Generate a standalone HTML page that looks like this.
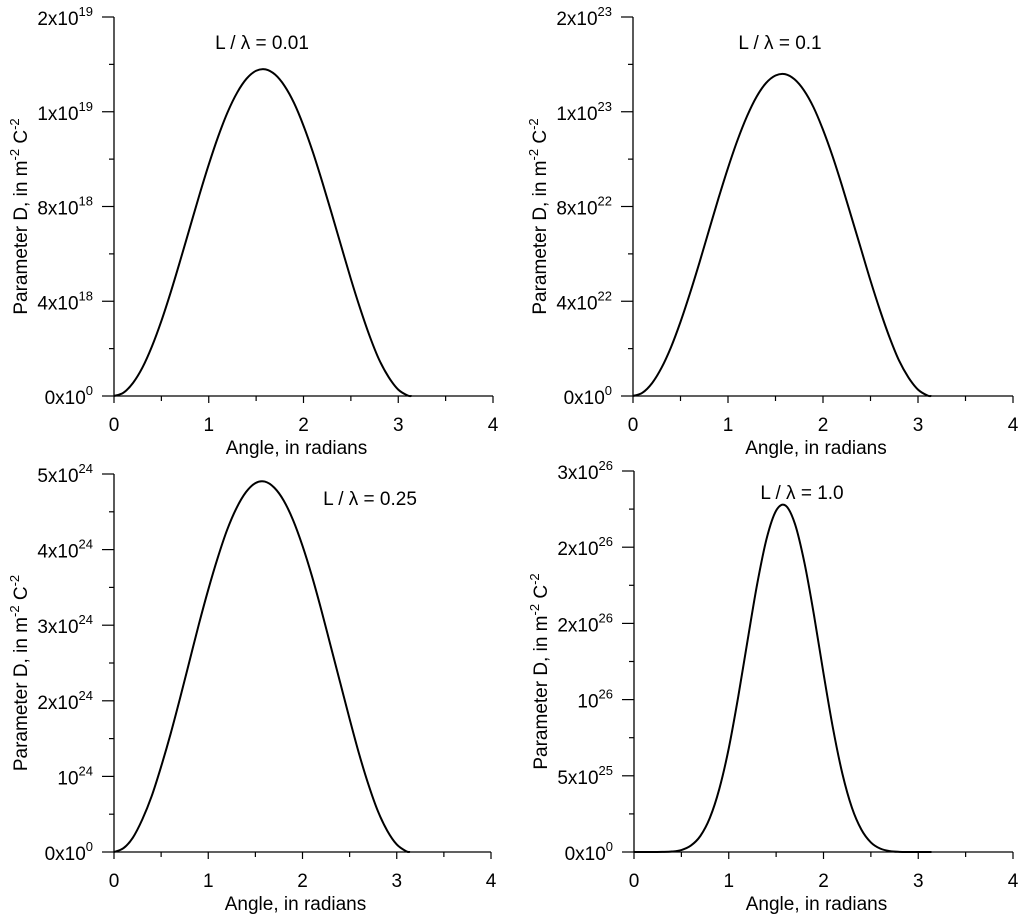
<!DOCTYPE html>
<html><head><meta charset="utf-8">
<style>
body{margin:0;background:#fff}
svg{display:block;font-family:"Liberation Sans",Arial,sans-serif}
</style></head>
<body>
<svg id="fig" width="1024" height="921" viewBox="0 0 1024 921"></svg>
<script>
const xs = [0,0.1,0.2,0.3,0.4,0.5,0.6,0.7,0.8,0.9,1.0,1.1,1.2,1.3,1.4,1.5,1.6,1.7,1.8,1.9,2.0,2.1,2.2,2.3,2.4,2.5,2.6,2.7,2.8,2.9,3.0,3.1,3.14];
const seriesA = [0,0.14,0.55,1.2,2.09,3.17,4.4,5.73,7.1,8.47,9.77,10.96,11.99,12.81,13.4,13.73,13.79,13.57,13.09,12.37,11.41,10.28,9.01,7.67,6.3,4.94,3.67,2.51,1.52,0.79,0.27,0.02,0]; // x1e18
const seriesB = [0,0.14,0.54,1.19,2.06,3.13,4.34,5.64,7.0,8.35,9.63,10.8,11.81,12.63,13.21,13.53,13.59,13.37,12.9,12.19,11.24,10.13,8.88,7.55,6.21,4.87,3.62,2.48,1.5,0.78,0.27,0.02,0]; // x1e22
const seriesC = [0,0.05,0.19,0.43,0.74,1.13,1.56,2.03,2.52,3.01,3.47,3.89,4.26,4.55,4.76,4.88,4.9,4.82,4.65,4.39,4.05,3.65,3.2,2.72,2.24,1.76,1.3,0.89,0.54,0.28,0.1,0.01,0]; // x1e24
const seriesD = [0,0,0,0.005,0.03,0.13,0.42,1.05,2.23,4.13,6.8,10.19,13.93,17.58,20.57,22.4,22.73,21.5,18.94,15.53,11.72,8.12,5.12,2.91,1.47,0.63,0.22,0.06,0.01,0,0,0,0]; // x1e25
const xTicks = [0,1,2,3,4];
const yTicksA = [["0x10","0"],["4x10","18"],["8x10","18"],["1x10","19"],["2x10","19"]];
const yTicksB = [["0x10","0"],["4x10","22"],["8x10","22"],["1x10","23"],["2x10","23"]];
const yTicksC = [["0x10","0"],["10","24"],["2x10","24"],["3x10","24"],["4x10","24"],["5x10","24"]];
const yTicksD = [["0x10","0"],["5x10","25"],["10","26"],["2x10","26"],["2x10","26"],["3x10","26"]];
const titles = ["L / \u03bb = 0.01","L / \u03bb = 0.1","L / \u03bb = 0.25","L / \u03bb = 1.0"];

const NS="http://www.w3.org/2000/svg";
const svg=document.getElementById('fig');
function mk(tag,attrs,parent){const e=document.createElementNS(NS,tag);for(const k in attrs)e.setAttribute(k,attrs[k]);(parent||svg).appendChild(e);return e;}

const panels=[
 {x0:114,x1:493,y0:396,y1:17,ymax:16,data:seriesA,ticks:yTicksA,title:titles[0],tx:262,ty:49,name:'panel-l-001'},
 {x0:633,x1:1013,y0:396,y1:17,ymax:16,data:seriesB,ticks:yTicksB,title:titles[1],tx:780,ty:49,name:'panel-l-01'},
 {x0:114,x1:491,y0:852,y1:474,ymax:5,data:seriesC,ticks:yTicksC,title:titles[2],tx:370,ty:505,name:'panel-l-025'},
 {x0:634,x1:1013,y0:852,y1:471,ymax:25,data:seriesD,ticks:yTicksD,title:titles[3],tx:802,ty:499,name:'panel-l-10'}
];

panels.forEach(p=>{
 const g=mk('g',{});
 
 
 const X=v=>p.x0+(v/4)*(p.x1-p.x0);
 const Y=v=>p.y0-(v/p.ymax)*(p.y0-p.y1);
 const ya=mk('line',{x1:p.x0,y1:p.y0,x2:p.x0,y2:p.y1,stroke:'#000','stroke-width':1.3},g);
 
 
 const xa=mk('line',{x1:p.x0,y1:p.y0,x2:p.x1,y2:p.y0,stroke:'#000','stroke-width':1.3},g);
 
 
 for(let i=0;i<=8;i++){
  const v=i*0.5;
  mk('line',{x1:X(v),y1:p.y0,x2:X(v),y2:p.y0+(i%2?5:7),stroke:'#000','stroke-width':1.2},g);
 }
 xTicks.forEach(v=>{
  const t=mk('text',{x:X(v),y:p.y0+35,'font-size':19,'text-anchor':'middle'},g);
  t.textContent=v;
  
  
 });
 const n=p.ticks.length-1;
 for(let i=0;i<=2*n;i++){
  const y=p.y0-(i/(2*n))*(p.y0-p.y1);
  mk('line',{x1:p.x0,y1:y,x2:p.x0-(i%2?5:12),y2:y,stroke:'#000','stroke-width':1.2},g);
 }
 p.ticks.forEach((lab,i)=>{
  const y=p.y0-(i/n)*(p.y0-p.y1);
  const t=mk('text',{x:p.x0-21,y:y+8,'font-size':19,'text-anchor':'end'},g);
  
  
  const a=mk('tspan',{},t);a.textContent=lab[0];
  const b=mk('tspan',{dy:-9,'font-size':13},t);b.textContent=lab[1];
 });
 const pts=xs.map((x,i)=>[X(x),Y(p.data[i])]);
 let d='M'+pts[0][0].toFixed(2)+','+pts[0][1].toFixed(2);
 for(let i=0;i<pts.length-1;i++){
  const p0=pts[Math.max(0,i-1)],p1=pts[i],p2=pts[i+1],p3=pts[Math.min(pts.length-1,i+2)];
  const c1=[p1[0]+(p2[0]-p0[0])/6,p1[1]+(p2[1]-p0[1])/6];
  const c2=[p2[0]-(p3[0]-p1[0])/6,p2[1]-(p3[1]-p1[1])/6];
  d+='C'+c1[0].toFixed(2)+','+c1[1].toFixed(2)+' '+c2[0].toFixed(2)+','+c2[1].toFixed(2)+' '+p2[0].toFixed(2)+','+p2[1].toFixed(2);
 }
 const c=mk('path',{d:d,fill:'none',stroke:'#000','stroke-width':2,'stroke-linejoin':'round'},g);
 
 
 const tt=mk('text',{x:p.tx,y:p.ty,'font-size':19,'text-anchor':'middle'},g);
 tt.textContent=p.title;
 
 
 const xt=mk('text',{x:(p.x0+p.x1)/2-7,y:p.y0+58,'font-size':19,'text-anchor':'middle'},g);
 xt.textContent='Angle, in radians';
 
 
 const cy=(p.y0+p.y1)/2+10, cx=p.x0-87;
 const yt=mk('text',{x:cx,y:cy,'font-size':19,'text-anchor':'middle',transform:`rotate(-90 ${cx} ${cy})`},g);
 
 
 const s1=mk('tspan',{},yt);s1.textContent='Parameter D, in m';
 const s2=mk('tspan',{dy:-8,'font-size':13},yt);s2.textContent='-2';
 const s3=mk('tspan',{dy:8},yt);s3.textContent=' C';
 const s4=mk('tspan',{dy:-8,'font-size':13},yt);s4.textContent='-2';
});
</script>
</body></html>
